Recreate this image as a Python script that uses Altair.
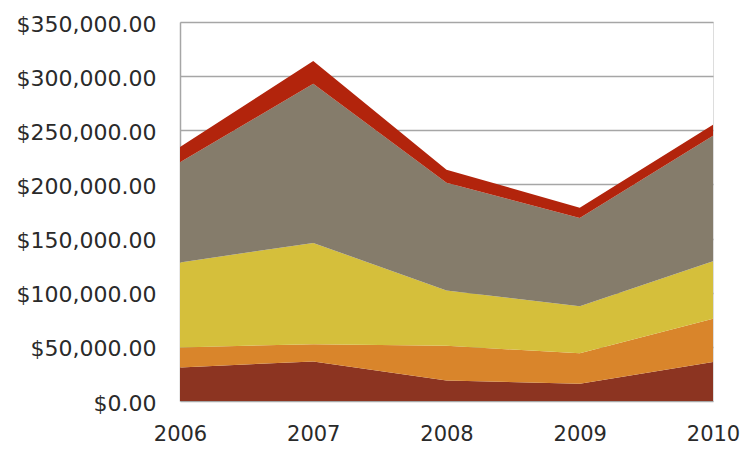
import altair as alt
import pandas as pd

years = [2006, 2007, 2008, 2009, 2010]
series_names = ["Series 1", "Series 2", "Series 3", "Series 4", "Series 5"]
brown = [31000, 36500, 19000, 16000, 36000]
orange = [18500, 16000, 32000, 28000, 40000]
yellow = [78500, 93500, 51000, 43500, 53000]
grey = [92500, 147000, 99500, 81500, 116000]
red = [14000, 21000, 12000, 9500, 10000]
colors = ["#8C3421", "#D9852B", "#D5BF3B", "#857C6B", "#B2240C"]
y_ticks = [0, 50000, 100000, 150000, 200000, 250000, 300000, 350000]

rows = []
for i, vals in enumerate([brown, orange, yellow, grey, red]):
    for yr, v in zip(years, vals):
        rows.append({"year": yr, "value": v, "series": series_names[i], "order": i})
df = pd.DataFrame(rows)

chart = alt.Chart(df).mark_area(opacity=1).encode(
    x=alt.X("year:Q", title=None,
            scale=alt.Scale(domain=[2006, 2010], nice=False, zero=False),
            axis=alt.Axis(values=years, format="d", grid=False, ticks=False,
                          domain=False, labelFlush=False, labelOverlap=False,
                          labelBound=False, labelFontSize=21, labelFont="DejaVu Sans",
                          labelColor="#2a2a2a", labelPadding=22)),
    y=alt.Y("value:Q", stack="zero", title=None,
            scale=alt.Scale(domain=[0, 350000], nice=False),
            axis=alt.Axis(values=y_ticks, format="$,.2f", ticks=False,
                          grid=True, gridColor="#A6A6A6", gridWidth=1.5,
                          domain=True, domainColor="#A6A6A6", domainWidth=1.5,
                          labelFontSize=22, labelFont="DejaVu Sans", labelColor="#2a2a2a",
                          labelPadding=24, labelOffset=2)),
    color=alt.Color("series:N", legend=None,
                    scale=alt.Scale(domain=series_names, range=colors)),
    order=alt.Order("order:Q", sort="ascending"),
).properties(
    width=533, height=379,
    autosize=alt.AutoSizeParams(type="none"),
    padding={"left": 172, "top": 14, "right": 35, "bottom": 50},
).configure_view(strokeWidth=0).configure(background="white")

chart.save("out.html", embed_options={"renderer": "svg", "actions": False})
